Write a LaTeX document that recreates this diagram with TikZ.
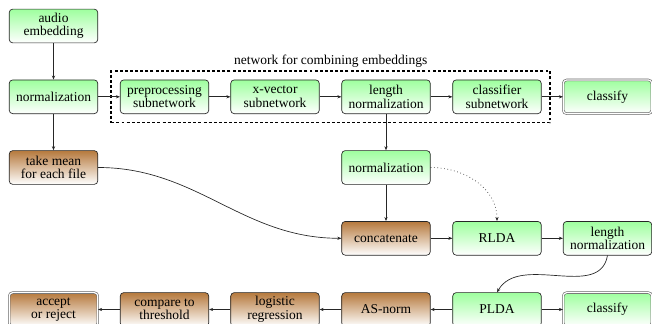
\documentclass[tikz,border=0pt]{standalone}
\usepackage{fontspec}
\setmainfont{Liberation Serif}
\newfontfamily\labelfont{Liberation Serif}
\usetikzlibrary{arrows.meta,fit,positioning}

\tikzset{
  x=0.7407pt, y=-0.7407pt,
  every node/.style={font=\labelfont\fontsize{10pt}{10pt}\selectfont},
  procbox/.style={draw=black!85, line width=0.5pt, rounded corners=2.6pt,
    minimum width=65.6pt, minimum height=25pt, inner sep=1pt, align=center},
  greenbox/.style={procbox, top color=green!38, bottom color=white},
  brownbox/.style={procbox, top color=brown!95!black, bottom color=white},
  endbox/.style={double=white, double distance=0.9pt, draw=black!60, line width=0.45pt},
  arr/.style={-{Stealth[length=3pt,width=2.4pt]}, line width=0.5pt, draw=black!85},
  groupbox/.style={draw, line width=1.2pt, dash pattern=on 2.2pt off 1.6pt, inner sep=6.4pt}
}

\begin{document}
\begin{tikzpicture}
\useasboundingbox (0,0) rectangle (652,324);

% first column
\node[greenbox] (audio) at (53.5,26) {audio\\embedding};
\node[greenbox] (norm1) at (53.5,96.8) {normalization};
\node[brownbox] (mean) at (53.5,167.5) {take mean\\for each file};

% network for combining embeddings
\node[greenbox] (pre) at (164.5,96.8) {preprocessing\\subnetwork};
\node[greenbox] (xvec) at (275,96.8) {x-vector\\subnetwork};
\node[greenbox] (len1) at (386,96.8) {length\\normalization};
\node[greenbox] (clsub) at (497,96.8) {classifier\\subnetwork};
\node[greenbox, endbox] (cls1) at (607.5,96.8) {classify};

\node[groupbox, fit=(pre)(clsub)] (net) {};
\node[anchor=south, inner sep=2pt] (netlabel) at (net.north) {network for combining embeddings};

% back end
\node[greenbox] (norm2) at (386,167.5) {normalization};
\node[brownbox] (concat) at (386,238.3) {concatenate};
\node[greenbox] (rlda) at (497,238.3) {RLDA};
\node[greenbox] (len2) at (607.5,238.3) {length\\normalization};

\node[greenbox] (plda) at (497,309.5) {PLDA};
\node[greenbox, endbox] (cls2) at (607.5,309.5) {classify};
\node[brownbox] (asnorm) at (386,309.5) {AS-norm};
\node[brownbox] (logreg) at (275,309.5) {logistic\\regression};
\node[brownbox] (thresh) at (164.5,309.5) {compare to\\threshold};
\node[brownbox, endbox] (decide) at (53.5,309.5) {accept\\or reject};

% connectors
\draw[arr] (audio) -- (norm1);
\draw[arr] (norm1) -- (pre);
\draw[arr] (norm1) -- (mean);
\draw[arr] (pre) -- (xvec);
\draw[arr] (xvec) -- (len1);
\draw[arr] (len1) -- (clsub);
\draw[arr] (clsub) -- (cls1);
\draw[arr] (len1) -- (norm2);
\draw[arr] (norm2) -- (concat);
\draw[arr] (mean.east) to[out=0, in=180] (concat.west);
\draw[arr, dotted] (norm2.east) to[out=0, in=90] (rlda.north);
\draw[arr] (concat) -- (rlda);
\draw[arr] (rlda) -- (len2);
\draw[arr] (len2.south) to[out=-100, in=60] (plda.north);
\draw[arr] (plda) -- (cls2);
\draw[arr] (plda) -- (asnorm);
\draw[arr] (asnorm) -- (logreg);
\draw[arr] (logreg) -- (thresh);
\draw[arr] (thresh) -- (decide);
\end{tikzpicture}
\end{document}
